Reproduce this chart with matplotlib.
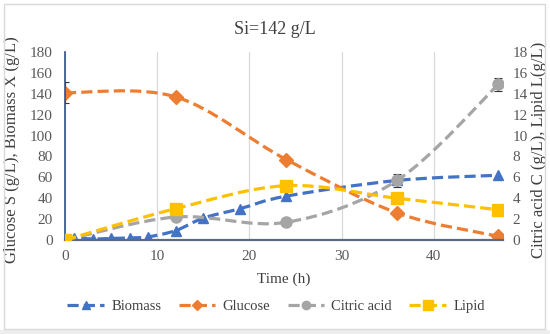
import numpy as np
import matplotlib
matplotlib.use("Agg")
import matplotlib.pyplot as plt
from matplotlib.path import Path
from matplotlib.patches import PathPatch, Rectangle
from matplotlib.lines import Line2D

plt.rcParams['font.family'] = ['Liberation Serif', 'DejaVu Serif']

# data
biomass_t = [0, 1, 3, 5, 7, 9, 12, 15, 19, 24, 36, 47]
biomass = [1, 2, 1, 1.5, 2, 3, 9, 21, 30, 42, 57, 62]

glucose_t = [0, 12, 24, 36, 47]
glucose = [141, 137, 77, 26, 3.5]
glucose_err = [10, 0, 0, 0, 0]

citric_t = [0, 12, 24, 36, 47]
citric = [0, 2.2, 1.7, 5.7, 14.9]
citric_err = [0, 0, 0, 0.6, 0.6]

lipid_t = [0, 12, 24, 36, 47]
lipid = [0, 3.0, 5.2, 4.0, 2.9]

c_bio = '#4472C4'
c_glu = '#ED7D31'
c_cit = '#A5A5A5'
c_lip = '#FFC000'
dash = (0, (3.5, 1.6))
lw = 2.3


def smooth_path(x, y):
    # Excel-style smoothed line (Catmull-Rom as cubic Bezier)
    pts = np.column_stack([x, y]).astype(float)
    n = len(pts)
    verts = [pts[0]]
    codes = [Path.MOVETO]
    for i in range(n - 1):
        p0 = pts[i - 1] if i > 0 else pts[i]
        p1 = pts[i]
        p2 = pts[i + 1]
        p3 = pts[i + 2] if i + 2 < n else pts[i + 1]
        verts += [p1 + (p2 - p0) / 6, p2 - (p3 - p1) / 6, p2]
        codes += [Path.CURVE4] * 3
    return Path(verts, codes)


def draw_series(ax, x, y, color, marker, ms, err=None):
    ax.add_patch(PathPatch(smooth_path(x, y), fill=False, edgecolor=color,
                           lw=lw, linestyle=dash, capstyle='butt'))
    if err is not None:
        ax.errorbar(x, y, yerr=err, fmt='none', ecolor='#333333',
                    elinewidth=0.8, capsize=3, capthick=0.8)
    ax.plot(x, y, linestyle='none', marker=marker, ms=ms, color=color,
            markeredgecolor=color)


fig = plt.figure(figsize=(5.5, 3.34), dpi=100)
fig.patches.append(Rectangle((0, 0), 1, 4 / 334, transform=fig.transFigure,
                             facecolor='#eeeeee', edgecolor='none'))
fig.patches.append(Rectangle((4 / 550, 5 / 334), 541 / 550, 325 / 334,
                             transform=fig.transFigure, facecolor='none',
                             edgecolor='#d9d9d9', lw=1))

ax = fig.add_axes([65 / 550, 1 - 240 / 334, 438 / 550, 188 / 334])
ax2 = ax.twinx()

ax.set_xlim(0, 47.5)
ax.set_ylim(0, 180)
ax2.set_ylim(0, 18)
ax.set_xticks([0, 10, 20, 30, 40])
ax.set_yticks(range(0, 181, 20))
ax2.set_yticks(range(0, 19, 2))
ax.grid(axis='x', color='#d9d9d9', lw=0.9)
ax.set_axisbelow(True)

for a in (ax, ax2):
    for s in a.spines.values():
        s.set_visible(False)
    a.tick_params(length=0, labelsize=11, colors='#595959')
ax.tick_params(axis='y', pad=9)
ax.tick_params(axis='x', pad=7)
ax2.tick_params(axis='y', pad=7)
ax.spines['left'].set_visible(True)
ax.spines['left'].set_color('#2F4F8F')
ax.spines['left'].set_linewidth(1.2)
ax.spines['bottom'].set_visible(True)
ax.spines['bottom'].set_color('#5A6A80')
ax.spines['bottom'].set_linewidth(1.6)

draw_series(ax, biomass_t, biomass, c_bio, '^', 7.5)
draw_series(ax, glucose_t, glucose, c_glu, 'D', 7, glucose_err)
draw_series(ax2, citric_t, citric, c_cit, 'o', 8, citric_err)
draw_series(ax2, lipid_t, lipid, c_lip, 's', 9)

ax.set_xlabel('Time (h)', fontsize=11, color='#404040')
ax.xaxis.set_label_coords(0.5, -(279 - 240) / 188, transform=ax.transAxes)
ax.xaxis.label.set_va('center')
ax.set_ylabel('Glucose S (g/L), Biomass X (g/L)', fontsize=12,
              color='#404040', va='center')
ax.yaxis.set_label_coords((12 - 65) / 438, 0.48)
ax2.set_ylabel('Citric acid C (g/L), Lipid L(g/L)', fontsize=12,
               color='#404040', rotation=90, va='center')
ax2.yaxis.set_label_coords((539 - 65) / 438, 0.48)

fig.text(0.5, 1 - 29 / 334, 'Si=142 g/L', ha='center', va='center',
         fontsize=13, color='#404040')

handles = [
    Line2D([], [], color=c_bio, lw=lw, ls=dash, marker='^', ms=6),
    Line2D([], [], color=c_glu, lw=lw, ls=dash, marker='D', ms=5.5),
    Line2D([], [], color=c_cit, lw=lw, ls=dash, marker='o', ms=6),
    Line2D([], [], color=c_lip, lw=lw, ls=dash, marker='s', ms=6.5),
]
fig.legend(handles, ['Biomass', 'Glucose', 'Citric acid', 'Lipid'],
           loc='center', bbox_to_anchor=(276 / 550, 1 - 306 / 334), ncol=4,
           frameon=False, fontsize=10.5, handlelength=2.5,
           columnspacing=1.2, handletextpad=0.5, labelcolor='#404040')

fig.savefig('out.png', dpi=100)
